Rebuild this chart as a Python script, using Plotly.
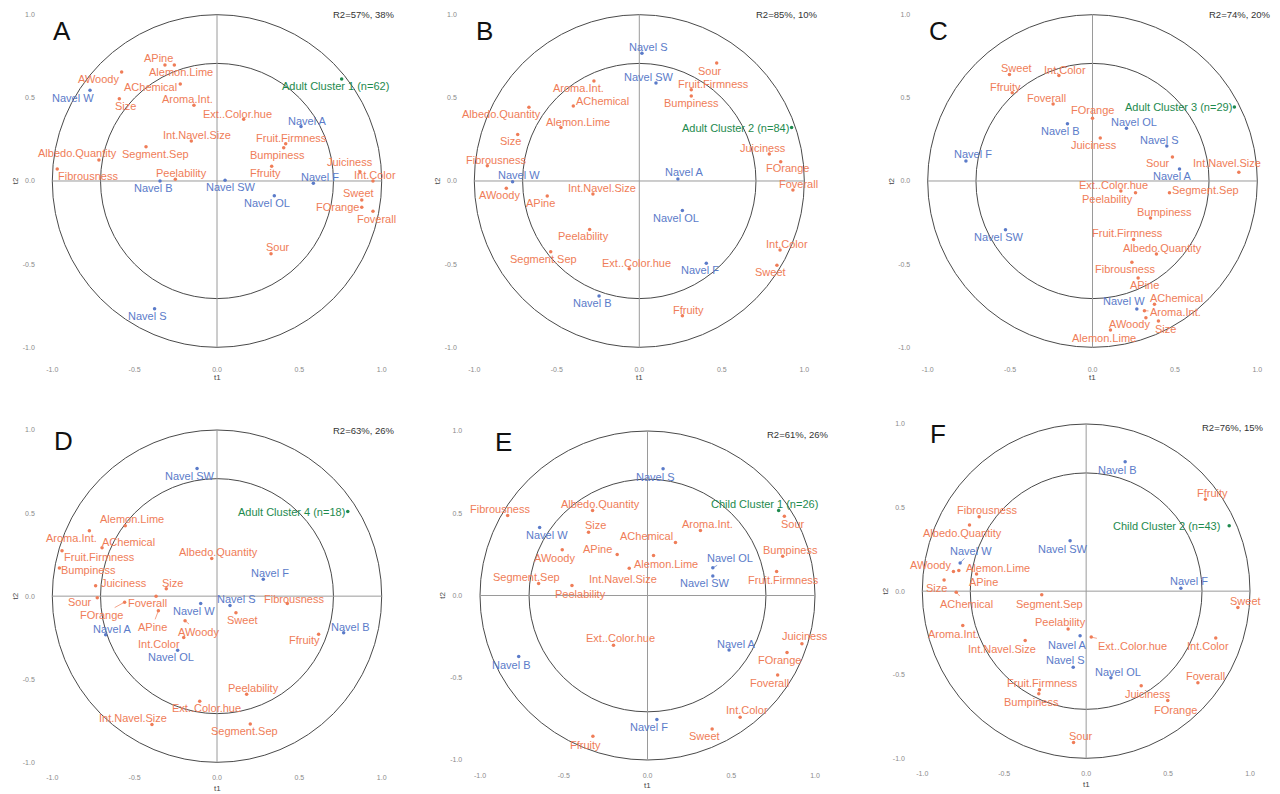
import plotly.graph_objects as go

# ---------------- DATA ----------------
A_names = ["APine", "Alemon.Lime", "AWoody", "AChemical", "Navel W", "Size", "Aroma.Int.", "Ext..Color.hue",
           "Navel A", "Int.Navel.Size", "Fruit.Firmness", "Segment.Sep", "Bumpiness", "Albedo.Quantity",
           "Juiciness", "Ffruity", "Fibrousness", "Peelability", "Navel SW", "Navel B", "Int.Color", "Navel F",
           "Navel OL", "Sweet", "FOrange", "Foverall", "Sour", "Navel S", "Adult Cluster 1 (n=62)"]
A_t1 = [-0.316, -0.259, -0.579, -0.223, -0.771, -0.593, -0.140, 0.162, 0.510, -0.156, 0.417, -0.431, 0.405, -0.717,
        0.868, 0.332, -0.970, -0.253, 0.049, -0.346, 0.947, 0.585, 0.348, 0.879, 0.879, 0.947, 0.328, -0.379, 0.757]
A_t2 = [0.697, 0.697, 0.655, 0.583, 0.545, 0.495, 0.455, 0.371, 0.327, 0.240, 0.224, 0.206, 0.200, 0.126,
        0.056, 0.088, 0.072, 0.010, 0.004, 0.0, 0.0, -0.014, -0.088, -0.114, -0.158, -0.182, -0.437, -0.768, 0.613]
A_r2 = "R2=57%, 38%"

B_names = ["Navel S", "Sour", "Navel SW", "Aroma.Int.", "Fruit.Firmness", "Bumpiness", "AChemical", "Albedo.Quantity",
           "Alemon.Lime", "Adult Cluster 2 (n=84)", "Size", "Juiciness", "FOrange", "Fibrousness", "Navel W", "Navel A",
           "Foverall", "AWoody", "Int.Navel.Size", "APine", "Navel OL", "Peelability", "Int.Color", "Segment.Sep",
           "Navel F", "Ext..Color.hue", "Sweet", "Navel B", "Ffruity"]
B_t1 = [0.016, 0.469, 0.101, -0.275, 0.315, 0.315, -0.400, -0.669, -0.475, 0.923, -0.737, 0.788, 0.857, -0.921,
        -0.768, 0.234, 0.931, -0.806, -0.281, -0.558, 0.261, -0.301, 0.853, -0.537, 0.406, -0.061, 0.834, -0.244, 0.261]
B_t2 = [0.768, 0.709, 0.589, 0.601, 0.549, 0.511, 0.451, 0.443, 0.321, 0.321, 0.279, 0.162, 0.116, 0.092,
        -0.004, 0.012, -0.054, -0.044, -0.078, -0.090, -0.178, -0.291, -0.415, -0.425, -0.495, -0.527, -0.507,
        -0.691, -0.810]
B_r2 = "R2=85%, 10%"

C_names = ["Sweet", "Int.Color", "Ffruity", "Foverall", "Adult Cluster 3 (n=29)", "FOrange", "Navel B", "Navel OL",
           "Juiciness", "Navel S", "Navel F", "Sour", "Navel A", "Int.Navel.Size", "Ext..Color.hue", "Peelability",
           "Segment.Sep", "Bumpiness", "Navel SW", "Fruit.Firmness", "Albedo.Quantity", "Fibrousness", "APine",
           "AChemical", "Navel W", "Aroma.Int.", "AWoody", "Size", "Alemon.Lime"]
C_t1 = [-0.504, -0.204, -0.487, -0.239, 0.861, 0.0, -0.152, 0.206, 0.047, 0.451, -0.768, 0.485, 0.528, 0.888,
        0.261, 0.172, 0.467, 0.352, -0.528, 0.249, 0.388, 0.239, 0.277, 0.376, 0.269, 0.315, 0.324, 0.400, 0.109]
C_t2 = [0.641, 0.635, 0.531, 0.463, 0.445, 0.377, 0.345, 0.317, 0.259, 0.210, 0.120, 0.144, 0.072, 0.052,
        -0.070, -0.060, -0.070, -0.222, -0.293, -0.351, -0.439, -0.489, -0.583, -0.741, -0.770, -0.780, -0.822,
        -0.842, -0.896]
C_r2 = "R2=74%, 20%"

D_names = ["Navel SW", "Adult Cluster 4 (n=18)", "Alemon.Lime", "Aroma.Int.", "AChemical", "Fruit.Firmness",
           "Albedo.Quantity", "Bumpiness", "Navel F", "Juiciness", "Size", "Sour", "FOrange", "Foverall", "Navel W",
           "Navel S", "Fibrousness", "Sweet", "APine", "AWoody", "Navel A", "Ffruity", "Navel B", "Int.Color",
           "Navel OL", "Peelability", "Ext..Color.hue", "Int.Navel.Size", "Segment.Sep"]
D_t1 = [-0.121, 0.794, -0.557, -0.775, -0.698, -0.941, -0.032, -0.957, 0.281, -0.737, -0.308, -0.727, -0.561,
        -0.370, -0.099, 0.079, 0.427, 0.115, -0.356, -0.194, -0.676, 0.617, 0.769, -0.202, -0.239, 0.180, -0.105,
        -0.395, 0.202]
D_t2 = [0.768, 0.510, 0.423, 0.393, 0.291, 0.273, 0.227, 0.169, 0.102, 0.062, 0.044, -0.010, -0.036, 0.0,
        -0.044, -0.056, -0.044, -0.100, -0.088, -0.148, -0.233, -0.229, -0.221, -0.249, -0.325, -0.590, -0.632,
        -0.772, -0.770]
D_r2 = "R2=63%, 26%"

E_names = ["Navel S", "Child Cluster 1 (n=26)", "Fibrousness", "Sour", "Albedo.Quantity", "Size", "Navel W",
           "Aroma.Int.", "AChemical", "APine", "AWoody", "Bumpiness", "Alemon.Lime", "Int.Navel.Size", "Navel OL",
           "Fruit.Firmness", "Navel SW", "Segment.Sep", "Peelability", "Juiciness", "Ext..Color.hue", "Navel A",
           "FOrange", "Navel B", "Foverall", "Int.Color", "Navel F", "Sweet", "Ffruity"]
E_t1 = [0.093, 0.783, -0.835, 0.817, -0.328, -0.352, -0.644, 0.316, 0.167, -0.181, -0.509, 0.807, 0.036, -0.109,
        0.390, 0.771, 0.390, -0.650, -0.451, 0.922, -0.203, 0.487, 0.833, -0.769, 0.777, 0.553, 0.056, 0.386, -0.326]
E_t2 = [0.770, 0.517, 0.486, 0.482, 0.517, 0.385, 0.413, 0.395, 0.322, 0.249, 0.278, 0.239, 0.243, 0.166,
        0.168, 0.146, 0.118, 0.073, 0.061, -0.294, -0.302, -0.332, -0.347, -0.371, -0.484, -0.740, -0.754,
        -0.811, -0.855]
E_r2 = "R2=61%, 26%"

F_names = ["Navel B", "Ffruity", "Fibrousness", "Child Cluster 2 (n=43)", "Albedo.Quantity", "Navel SW", "Navel W",
           "AWoody", "Alemon.Lime", "APine", "Size", "AChemical", "Navel F", "Segment.Sep", "Sweet", "Aroma.Int.",
           "Peelability", "Navel A", "Ext..Color.hue", "Int.Color", "Int.Navel.Size", "Navel S", "Navel OL",
           "Foverall", "Fruit.Firmness", "Juiciness", "Bumpiness", "FOrange", "Sour"]
F_t1 = [0.238, 0.728, -0.653, 0.873, -0.712, -0.098, -0.769, -0.810, -0.777, -0.669, -0.867, -0.793, 0.578,
        -0.271, 0.926, -0.753, -0.110, -0.037, 0.031, 0.791, -0.372, -0.079, 0.151, 0.682, -0.285, 0.336, -0.289,
        0.498, -0.077]
F_t2 = [0.774, 0.550, 0.445, 0.391, 0.395, 0.301, 0.169, 0.118, 0.124, 0.102, 0.066, -0.006, 0.018, -0.022,
        -0.098, -0.205, -0.227, -0.267, -0.275, -0.281, -0.295, -0.455, -0.518, -0.548, -0.590, -0.566, -0.614,
        -0.654, -0.905]
F_r2 = "R2=76%, 15%"

# ---------------- LABEL PLACEMENT (repelled label centres, data units) ----------------
A_lab_x = [-0.354, -0.219, -0.721, -0.403, -0.872, -0.553, -0.180, 0.123, 0.551, -0.119, 0.455, -0.374, 0.366, -0.846,
           0.808, 0.296, -0.785, -0.215, 0.085, -0.387, 0.960, 0.626, 0.306, 0.858, 0.729, 0.966, 0.368, -0.419, 0.717]
A_lab_y = [0.737, 0.653, 0.613, 0.565, 0.501, 0.451, 0.493, 0.403, 0.363, 0.277, 0.261, 0.162, 0.156, 0.170,
           0.112, 0.046, 0.032, 0.046, -0.036, -0.040, 0.034, 0.026, -0.134, -0.074, -0.154, -0.230, -0.397, -0.812,
           0.573]
A_seg = ["Albedo.Quantity", "Juiciness"]

B_lab_x = [0.055, 0.430, 0.061, -0.366, 0.451, 0.315, -0.222, -0.834, -0.372, 0.584, -0.780, 0.747, 0.897, -0.869,
           -0.727, 0.275, 0.966, -0.846, -0.226, -0.598, 0.220, -0.341, 0.893, -0.578, 0.366, -0.020, 0.796, -0.285,
           0.299]
B_lab_y = [0.804, 0.663, 0.625, 0.557, 0.583, 0.471, 0.483, 0.401, 0.357, 0.319, 0.238, 0.200, 0.078, 0.124,
           0.036, 0.052, -0.020, -0.084, -0.042, -0.130, -0.220, -0.333, -0.381, -0.467, -0.533, -0.491, -0.549,
           -0.733, -0.776]
B_seg = ["Albedo.Quantity"]

C_lab_x = [-0.463, -0.164, -0.528, -0.281, 0.522, 0.0, -0.192, 0.249, 0.008, 0.408, -0.728, 0.398, 0.487, 0.817,
           0.127, 0.089, 0.686, 0.435, -0.566, 0.210, 0.427, 0.198, 0.317, 0.512, 0.194, 0.504, 0.222, 0.443, 0.071]
C_lab_y = [0.677, 0.669, 0.567, 0.501, 0.443, 0.429, 0.303, 0.353, 0.216, 0.246, 0.160, 0.108, 0.032, 0.108,
           -0.026, -0.110, -0.056, -0.188, -0.335, -0.315, -0.401, -0.531, -0.625, -0.703, -0.723, -0.790, -0.862,
           -0.888, -0.942]
C_seg = ["AChemical", "Aroma.Int."]

D_lab_x = [-0.164, 0.453, -0.514, -0.885, -0.536, -0.715, 0.008, -0.779, 0.320, -0.567, -0.269, -0.832, -0.704,
           -0.421, -0.142, 0.121, 0.466, 0.156, -0.393, -0.115, -0.636, 0.530, 0.808, -0.350, -0.279, 0.219, -0.063,
           -0.508, 0.164]
D_lab_y = [0.724, 0.506, 0.463, 0.351, 0.327, 0.235, 0.263, 0.156, 0.140, 0.082, 0.080, -0.036, -0.114, -0.042,
           -0.090, -0.016, -0.016, -0.142, -0.185, -0.213, -0.195, -0.265, -0.187, -0.287, -0.367, -0.554, -0.674,
           -0.736, -0.812]
D_seg = ["AChemical", "FOrange", "APine", "AWoody"]

E_lab_x = [0.048, 0.698, -0.883, 0.867, -0.282, -0.308, -0.598, 0.360, -0.004, -0.296, -0.557, 0.853, 0.110,
           -0.148, 0.493, 0.813, 0.346, -0.722, -0.400, 0.938, -0.159, 0.529, 0.789, -0.813, 0.730, 0.594, 0.010,
           0.340, -0.372]
E_lab_y = [0.723, 0.555, 0.525, 0.434, 0.557, 0.426, 0.365, 0.432, 0.361, 0.282, 0.229, 0.278, 0.192, 0.101,
           0.229, 0.093, 0.073, 0.113, 0.012, -0.247, -0.259, -0.294, -0.393, -0.421, -0.533, -0.699, -0.802, -0.857,
           -0.906]
E_seg = ["AChemical", "Navel OL"]

F_lab_x = [0.189, 0.771, -0.608, 0.492, -0.757, -0.142, -0.700, -0.952, -0.539, -0.625, -0.916, -0.730, 0.625,
           -0.224, 0.973, -0.808, -0.155, -0.114, 0.281, 0.743, -0.513, -0.124, 0.197, 0.728, -0.264, 0.378, -0.336,
           0.545, -0.031]
F_lab_y = [0.726, 0.588, 0.485, 0.389, 0.345, 0.251, 0.241, 0.154, 0.140, 0.052, 0.016, -0.074, 0.062, -0.074,
           -0.058, -0.257, -0.187, -0.321, -0.327, -0.331, -0.347, -0.409, -0.485, -0.506, -0.548, -0.616, -0.664,
           -0.710, -0.869]
F_seg = ["Navel W", "Ext..Color.hue", "AChemical"]

# ---------------- STYLE / LAYOUT ----------------
W, H = 1280, 794
ORANGE = "#EF7D58"
BLUE = "#5B7BC9"
GREEN = "#1E8A4E"
FONT = "Liberation Sans, Arial, sans-serif"
XR = [-1.1, 1.1]
Y_TOP = 1.05
y_low = [-1.1, -1.1, -1.1, -1.06, -1.06, -1.06]

# pixel positions of -1 / +1 on each panel (x-1, x+1, y+1, y-1)
frames = [
    (52.3, 381.7, 14.7, 347.3),
    (474.3, 804.3, 14.7, 347.3),
    (927.7, 1257.3, 14.7, 347.3),
    (52.3, 381.7, 430.0, 762.3),
    (480.0, 815.0, 431.0, 760.0),
    (922.3, 1250.0, 424.0, 758.3),
]
letters = ["A", "B", "C", "D", "E", "F"]
letter_pos = [(-0.939, 0.904), (-0.939, 0.904), (-0.932, 0.904), (-0.933, 0.935), (-0.859, 0.934), (-0.907, 0.941)]
r2_y = [1.0, 1.0, 1.0, 0.995, 0.981, 0.981]
t1_y = [-1.18, -1.18, -1.18, -1.155, -1.155, -1.155]

panels = [
    (A_names, A_t1, A_t2, A_lab_x, A_lab_y, A_seg, A_r2),
    (B_names, B_t1, B_t2, B_lab_x, B_lab_y, B_seg, B_r2),
    (C_names, C_t1, C_t2, C_lab_x, C_lab_y, C_seg, C_r2),
    (D_names, D_t1, D_t2, D_lab_x, D_lab_y, D_seg, D_r2),
    (E_names, E_t1, E_t2, E_lab_x, E_lab_y, E_seg, E_r2),
    (F_names, F_t1, F_t2, F_lab_x, F_lab_y, F_seg, F_r2),
]


def color_of(name):
    if name.startswith("Navel"):
        return BLUE
    if "Cluster" in name:
        return GREEN
    return ORANGE


fig = go.Figure()
layout = dict(
    width=W, height=H, margin=dict(l=0, r=0, t=0, b=0),
    paper_bgcolor="white", plot_bgcolor="white", showlegend=False,
    font=dict(family=FONT),
)
shapes = []
annotations = []

for i, (names, t1, t2, lx, ly, seg, r2) in enumerate(panels):
    n = "" if i == 0 else str(i + 1)
    xa, ya = "x" + n, "y" + n
    YR = [y_low[i], Y_TOP]
    xm1, xp1, yp1, ym1 = frames[i]
    sx = (xp1 - xm1) / 2
    sy = (ym1 - yp1) / 2
    left = xm1 - (XR[1] - 1) * sx
    right = xp1 + (XR[1] - 1) * sx
    top = yp1 - (YR[1] - 1) * sy
    bottom = ym1 + (-1 - YR[0]) * sy
    layout["xaxis" + n] = dict(
        domain=[left / W, right / W], range=XR, anchor=ya, showgrid=False, zeroline=False,
        showline=False, ticks="", tickvals=[-1, -0.5, 0, 0.5, 1],
        ticktext=["-1.0", "-0.5", "0.0", "0.5", "1.0"], tickfont=dict(size=7, color="#8a8a8a"),
        fixedrange=True,
    )
    layout["yaxis" + n] = dict(
        domain=[1 - bottom / H, 1 - top / H], range=YR, anchor=xa, showgrid=False, zeroline=False,
        showline=False, ticks="", tickvals=[-1, -0.5, 0, 0.5, 1],
        ticktext=["-1.0", "-0.5", "0.0", "0.5", "1.0"], tickfont=dict(size=7, color="#8a8a8a"),
        fixedrange=True,
    )
    # circles and cross lines
    for r in (1.0, 0.5 ** 0.5):
        shapes.append(dict(type="circle", xref=xa, yref=ya, x0=-r, x1=r, y0=-r, y1=r,
                           line=dict(color="#4a4a4a", width=1), layer="below"))
    shapes.append(dict(type="line", xref=xa, yref=ya, x0=-1, x1=1, y0=0, y1=0,
                       line=dict(color="#9a9a9a", width=1), layer="below"))
    shapes.append(dict(type="line", xref=xa, yref=ya, x0=0, x1=0, y0=-1, y1=1,
                       line=dict(color="#9a9a9a", width=1), layer="below"))

    cols = [color_of(nm) for nm in names]
    fig.add_trace(go.Scatter(x=t1, y=t2, mode="markers", xaxis=xa, yaxis=ya,
                             marker=dict(size=3.5, color=cols), hoverinfo="text", text=names))

    for nm, px, py, tx, ty in zip(names, t1, t2, lx, ly):
        c = color_of(nm)
        if nm in seg:
            annotations.append(dict(x=px, y=py, xref=xa, yref=ya, ax=tx, ay=ty, axref=xa, ayref=ya,
                                    text=nm, showarrow=True, arrowhead=0, arrowwidth=0.7, arrowcolor=c,
                                    standoff=0, font=dict(size=11, color=c, family=FONT)))
        else:
            annotations.append(dict(x=tx, y=ty, xref=xa, yref=ya, text=nm, showarrow=False,
                                    xanchor="center", yanchor="middle",
                                    font=dict(size=11, color=c, family=FONT)))

    def xdom(v):
        return (v - XR[0]) / (XR[1] - XR[0])

    def ydom(v):
        return (v - YR[0]) / (YR[1] - YR[0])

    # panel letter, R2 text, axis titles
    annotations.append(dict(x=letter_pos[i][0], y=letter_pos[i][1], xref=xa, yref=ya, text=letters[i],
                            showarrow=False, xanchor="center", yanchor="middle",
                            font=dict(size=26, color="#111111", family=FONT)))
    annotations.append(dict(x=1.095, y=r2_y[i], xref=xa, yref=ya, text=r2, showarrow=False,
                            xanchor="right", yanchor="middle", font=dict(size=9.5, color="#333333", family=FONT)))
    annotations.append(dict(x=xdom(0), y=ydom(t1_y[i]), xref=xa + " domain", yref=ya + " domain", text="t1",
                            showarrow=False, xanchor="center", yanchor="middle", borderpad=0,
                            font=dict(size=8, color="#444444", family=FONT)))
    annotations.append(dict(x=xdom(-1.225), y=ydom(0), xref=xa + " domain", yref=ya + " domain", text="t2",
                            showarrow=False, textangle=-90, xanchor="center", yanchor="middle",
                            font=dict(size=8, color="#444444", family=FONT)))

layout["shapes"] = shapes
layout["annotations"] = annotations
fig.update_layout(**layout)
fig.write_html("out.html", config={"displayModeBar": False},
               post_script="document.body.style.margin='0px';document.body.style.overflow='hidden';")
